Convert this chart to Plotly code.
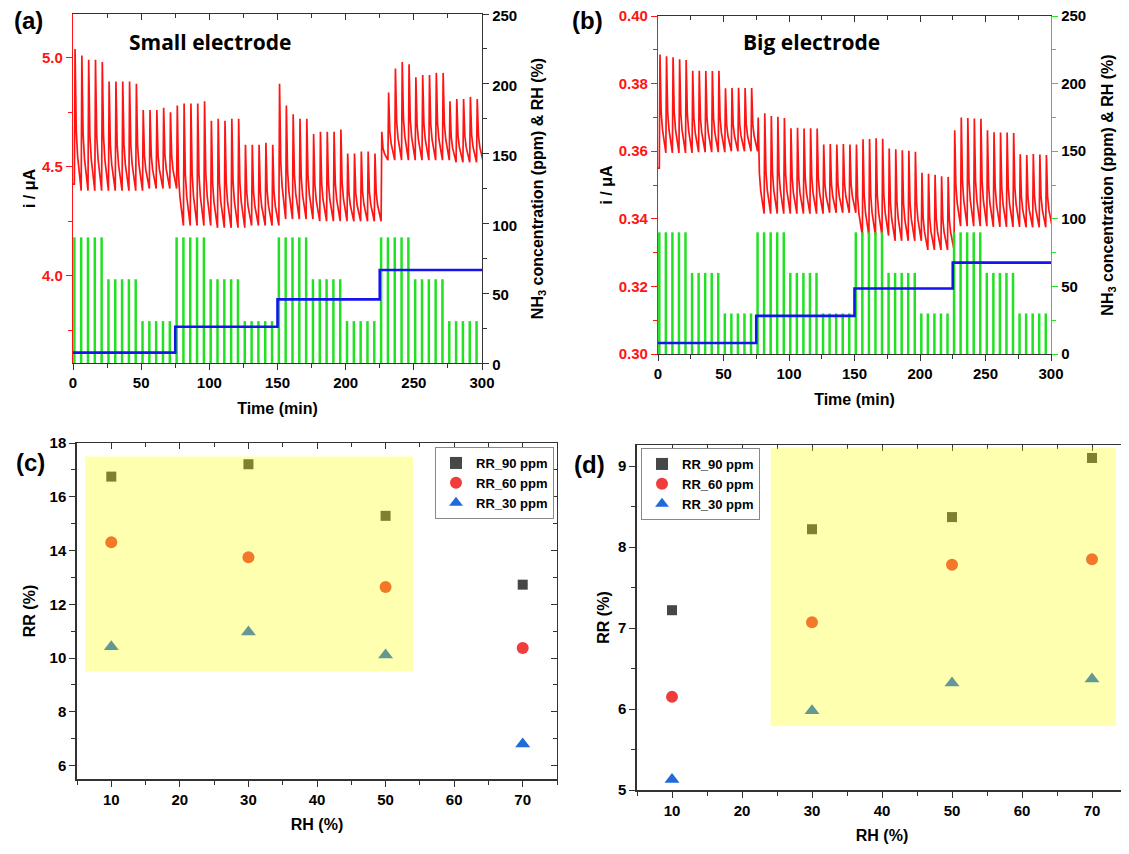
import plotly.graph_objects as go

W, H = 1129, 854
OFF = 8                      # default page margin around the plot div
FW, FH = W - OFF, H - OFF    # figure size

# ------------------------------------------------------------------ data
PERIOD = 5.0            # min between NH3 pulses
PULSE_START = 1.0       # first pulse time (min)
PULSES_PER_GROUP = 5

group_conc_ppm = [90, 60, 30, 90, 60, 30, 90, 60, 30, 90, 60, 30]

rh_step_time = [0, 75, 150, 225, 300]
rh_small = [7.4, 26.0, 45.6, 66.6, 66.6]
rh_big = [8.1, 28.2, 48.4, 67.6, 67.6]

# current peaks (one per NH3 pulse) and baselines (one per group)
peaks_small = [
    5.04, 5.01, 4.99, 4.99, 4.98,
    4.89, 4.89, 4.89, 4.89, 4.88,
    4.76, 4.76, 4.76, 4.77, 4.75,
    4.78, 4.79, 4.79, 4.79, 4.80,
    4.71, 4.72, 4.71, 4.72, 4.72,
    4.60, 4.60, 4.60, 4.61, 4.60,
    4.88, 4.78, 4.74, 4.72, 4.72,
    4.65, 4.66, 4.66, 4.66, 4.67,
    4.56, 4.56, 4.57, 4.57, 4.56,
    4.66, 4.84, 4.95, 4.98, 4.97,
    4.91, 4.92, 4.92, 4.93, 4.93,
    4.80, 4.81, 4.81, 4.82, 4.81,
]
valleys_small = [4.39, 4.39, 4.40, 4.23, 4.22, 4.23, 4.26, 4.25, 4.25, 4.53, 4.53, 4.52]
start_small = 4.42

peaks_big = [
    0.3886, 0.3881, 0.3878, 0.3872, 0.3870,
    0.3838, 0.3838, 0.3837, 0.3837, 0.3838,
    0.3786, 0.3787, 0.3788, 0.3787, 0.3787,
    0.3700, 0.3712, 0.3704, 0.3702, 0.3698,
    0.3668, 0.3669, 0.3667, 0.3668, 0.3667,
    0.3620, 0.3621, 0.3620, 0.3621, 0.3620,
    0.3620, 0.3635, 0.3636, 0.3638, 0.3637,
    0.3608, 0.3606, 0.3603, 0.3601, 0.3598,
    0.3536, 0.3533, 0.3530, 0.3526, 0.3524,
    0.3662, 0.3700, 0.3698, 0.3697, 0.3696,
    0.3662, 0.3656, 0.3655, 0.3655, 0.3654,
    0.3591, 0.3589, 0.3592, 0.3590, 0.3589,
]
valleys_big = [0.3595, 0.3597, 0.3600, 0.3415, 0.3415, 0.3418,
               0.3350, 0.3335, 0.3308, 0.3378, 0.3376, 0.3375]
start_big = 0.355

rh_pct = [10, 30, 50, 70]
rr_small_90 = [16.75, 17.21, 15.29, 12.73]
rr_small_60 = [14.31, 13.75, 12.64, 10.37]
rr_small_30 = [10.42, 10.97, 10.11, 6.80]
rr_big_90 = [7.22, 8.22, 8.37, 9.10]
rr_big_60 = [6.15, 7.07, 7.78, 7.85]
rr_big_30 = [5.13, 5.98, 6.32, 6.37]

series_names = ["RR_90 ppm", "RR_60 ppm", "RR_30 ppm"]

# --------------------------------------------------------------- helpers
def px(x):
    return (x - OFF) / FW

def py(y):
    return 1 - (y - OFF) / FH

FONT = "Arial, Liberation Sans, sans-serif"
RED = "#ff1414"
GREEN = "#22e022"
BLUE = "#1414ee"
AXC = "#333333"


def pulse_times():
    n = len(group_conc_ppm) * PULSES_PER_GROUP
    return [PULSE_START + PERIOD * i for i in range(n)]


def waveform(peaks, valleys, start):
    xs, ys = [0.0], [start]
    prev = start
    for i, (t, p) in enumerate(zip(pulse_times(), peaks)):
        v = valleys[i // PULSES_PER_GROUP]
        amp = p - v
        xs += [t, t + 0.5, t + 1.4, t + 2.4, t + PERIOD]
        ys += [prev, p, v + 0.42 * amp, v + 0.24 * amp, v]
        prev = v
    return xs, ys


def gas_bars():
    xs, ys = [], []
    for i, t in enumerate(pulse_times()):
        h = group_conc_ppm[i // PULSES_PER_GROUP]
        xs += [t, t, None]
        ys += [0, h, None]
    return xs, ys


fig = go.Figure()

tickfont = dict(family=FONT, size=15, color="black", weight="bold")
redfont = dict(family=FONT, size=15, color=RED, weight="bold")
titlefont = dict(family=FONT, size=16, color="black", weight="bold")


def time_panel(xa, yl, yr, dom_x, dom_y, peaks, valleys, start, rh, ylr,
               ydt, yfmt, rcolor, rstand, rshift):
    gx, gy = gas_bars()
    fig.add_trace(go.Scatter(x=gx, y=gy, mode="lines", line=dict(color=GREEN, width=2.5),
                             xaxis=xa, yaxis=yr, showlegend=False, hoverinfo="skip"))
    fig.add_trace(go.Scatter(x=rh_step_time, y=rh, mode="lines", line_shape="hv",
                             line=dict(color=BLUE, width=2.6),
                             xaxis=xa, yaxis=yr, showlegend=False))
    wx, wy = waveform(peaks, valleys, start)
    fig.add_trace(go.Scatter(x=wx, y=wy, mode="lines", line=dict(color=RED, width=1.7),
                             xaxis=xa, yaxis=yl, showlegend=False))
    xkey = "xaxis" + xa[1:]
    ylkey = "yaxis" + yl[1:]
    yrkey = "yaxis" + yr[1:]
    fig.layout[xkey] = dict(domain=dom_x, anchor=yl, range=[0, 300], dtick=50, tick0=0,
                            automargin=False, ticklabeloverflow="allow",
                            ticks="outside", ticklen=6, tickwidth=1.2, tickcolor=AXC,
                            showline=True, linecolor=AXC, linewidth=1.3,
                            minor=dict(dtick=25, ticks="outside", ticklen=4, tickcolor=AXC),
                            showgrid=False, zeroline=False, tickfont=tickfont,
                            title=dict(text="Time (min)", font=titlefont, standoff=12))
    fig.layout[ylkey] = dict(domain=dom_y, anchor=xa, range=ylr, dtick=ydt, tickformat=yfmt,
                             automargin=False, ticklabeloverflow="allow",
                             ticks="outside", ticklen=6, tickwidth=1.2, tickcolor=RED,
                             showline=True, linecolor=RED, linewidth=1.3,
                             minor=dict(dtick=ydt / 2, ticks="outside", ticklen=4, tickcolor=RED),
                             showgrid=False, zeroline=False, tickfont=redfont,
                             title=dict(text="i / μA", font=titlefont, standoff=2))
    fig.layout[yrkey] = dict(domain=dom_y, anchor=xa, overlaying=yl, side="right",
                             range=[0, 250], dtick=50, automargin=False,
                             ticklabeloverflow="allow", ticklabelshift=rshift,
                             ticks="outside", ticklen=6, tickwidth=1.2, tickcolor=rcolor,
                             showline=True, linecolor=rcolor, linewidth=1.3,
                             minor=dict(dtick=25, ticks="outside", ticklen=4, tickcolor=rcolor),
                             showgrid=False, zeroline=False, tickfont=tickfont,
                             title=dict(text="NH<sub>3</sub> concentration (ppm) &amp; RH (%)",
                                        font=titlefont, standoff=rstand))


def top_ticks(xa_new, anchor_y, over_x, rng, dtick, minor_dt):
    fig.add_trace(go.Scatter(x=[None], y=[None], xaxis=xa_new, yaxis=anchor_y,
                             showlegend=False, hoverinfo="skip"))
    fig.layout["xaxis" + xa_new[1:]] = dict(
        overlaying=over_x, anchor=anchor_y, side="top", range=rng, dtick=dtick,
        automargin=False,
        ticks="inside", ticklen=6, tickwidth=1.2, tickcolor=AXC, showticklabels=False,
        showline=True, linecolor=AXC, linewidth=1.3, showgrid=False, zeroline=False,
        minor=dict(dtick=minor_dt, ticks="inside", ticklen=4, tickcolor=AXC))


def right_ticks(ya_new, anchor_x, over_y, rng, dtick, minor_dt):
    fig.add_trace(go.Scatter(x=[None], y=[None], xaxis=anchor_x, yaxis=ya_new,
                             showlegend=False, hoverinfo="skip"))
    fig.layout["yaxis" + ya_new[1:]] = dict(
        overlaying=over_y, anchor=anchor_x, side="right", range=rng, dtick=dtick,
        automargin=False,
        ticks="inside", ticklen=6, tickwidth=1.2, tickcolor=AXC, showticklabels=False,
        showline=True, linecolor=AXC, linewidth=1.3, showgrid=False, zeroline=False,
        minor=dict(dtick=minor_dt, ticks="inside", ticklen=4, tickcolor=AXC))


# (a) small electrode
dxa = [px(73), px(482)]
dya = [py(363), py(14)]
time_panel("x", "y", "y2", dxa, dya, peaks_small, valleys_small, start_small, rh_small,
           [3.6, 5.2], 0.5, ".1f", AXC, 15, 2)
# (b) big electrode
dxb = [px(658), px(1051)]
dyb = [py(354), py(16)]
time_panel("x2", "y3", "y4", dxb, dyb, peaks_big, valleys_big, start_big, rh_big,
           [0.30, 0.40], 0.02, ".2f", GREEN, 16, 0)

top_ticks("x5", "y", "x", [0, 300], 50, 25)
top_ticks("x6", "y3", "x2", [0, 300], 50, 25)

# (c) & (d) RR vs RH
marker_styles = [
    dict(symbol="square", size=10, color="#474747"),
    dict(symbol="circle", size=12, color="#f03c3c"),
    dict(symbol="triangle-up", size=13, color="#1f6bd8"),
]


def rr_panel(xa, ya, dom_x, dom_y, series, yrange, ydt, legend_id, ystand):
    for name, vals, m in zip(series_names, series, marker_styles):
        fig.add_trace(go.Scatter(x=rh_pct, y=vals, mode="markers", name=name,
                                 marker=dict(symbol=m["symbol"], size=m["size"], color=m["color"],
                                             line=dict(width=0)),
                                 xaxis=xa, yaxis=ya, legend=legend_id))
    fig.layout["xaxis" + xa[1:]] = dict(
        domain=dom_x, anchor=ya, range=[5, 75], dtick=10, tick0=0, automargin=False,
        ticklabeloverflow="allow",
        ticks="outside", ticklen=6, tickwidth=1.2, tickcolor=AXC,
        showline=True, linecolor=AXC, linewidth=1.5,
        minor=dict(dtick=5, ticks="outside", ticklen=4, tickcolor=AXC),
        showgrid=False, zeroline=False, tickfont=tickfont,
        title=dict(text="RH (%)", font=titlefont, standoff=12))
    fig.layout["yaxis" + ya[1:]] = dict(
        domain=dom_y, anchor=xa, range=yrange, dtick=ydt, automargin=False,
        ticklabeloverflow="allow",
        ticks="outside", ticklen=6, tickwidth=1.2, tickcolor=AXC,
        showline=True, linecolor=AXC, linewidth=1.5,
        minor=dict(dtick=ydt / 2, ticks="outside", ticklen=4, tickcolor=AXC),
        showgrid=False, zeroline=False, tickfont=tickfont,
        title=dict(text="RR (%)", font=titlefont, standoff=ystand))


dxc = [px(77), px(557)]
dyc = [py(779), py(443)]
rr_panel("x3", "y5", dxc, dyc, [rr_small_90, rr_small_60, rr_small_30], [5.5, 18], 2,
         "legend", 10)
dxd = [px(637), px(1127)]
dyd = [py(790), py(445)]
rr_panel("x4", "y6", dxd, dyd, [rr_big_90, rr_big_60, rr_big_30], [5, 9.26], 1,
         "legend2", 4)

top_ticks("x7", "y5", "x3", [5, 75], 10, 5)
top_ticks("x8", "y6", "x4", [5, 75], 10, 5)
right_ticks("y7", "x3", "y5", [5.5, 18], 2, 1)
right_ticks("y8", "x4", "y6", [5, 9.26], 1, 0.5)

legend_common = dict(bgcolor="white", bordercolor="#888888", borderwidth=1,
                     font=dict(family=FONT, size=13, color="black", weight="bold"),
                     itemsizing="constant", tracegroupgap=0, itemwidth=30,
                     xanchor="left", yanchor="top")
fig.update_layout(
    legend=dict(x=px(435), y=py(447), **legend_common),
    legend2=dict(x=px(641), y=py(448), **legend_common),
)

# yellow highlight (semi-transparent, drawn over the markers)
fig.add_shape(type="rect", xref="x3", yref="y5", x0=6.2, x1=54.0, y0=9.5, y1=17.5,
              fillcolor="rgba(255,255,0,0.31)", line=dict(width=0), layer="above")
fig.add_shape(type="rect", xref="x4", yref="y6", x0=24.1, x1=73.4, y0=5.79, y1=9.23,
              fillcolor="rgba(255,255,0,0.31)", line=dict(width=0), layer="above")

# panel labels and titles
ann = [
    ("(a)", 28, 20),
    ("(b)", 587, 20),
    ("(c)", 30, 462),
    ("(d)", 589, 465),
]
for txt, x, y in ann:
    fig.add_annotation(text=txt, x=px(x), y=py(y), xref="paper", yref="paper",
                       xanchor="center", yanchor="middle", showarrow=False,
                       font=dict(family=FONT, size=24, color="black", weight="bold"))
fig.add_annotation(text="Small electrode", x=px(210), y=py(42), xref="paper", yref="paper",
                   xanchor="center", yanchor="middle", showarrow=False,
                   font=dict(family="Open Sans, sans-serif", size=21, color="black", weight="bold"))
fig.add_annotation(text="Big electrode", x=px(811), y=py(42), xref="paper", yref="paper",
                   xanchor="center", yanchor="middle", showarrow=False,
                   font=dict(family="Open Sans, sans-serif", size=21, color="black", weight="bold"))

fig.update_layout(width=FW, height=FH, margin=dict(l=0, r=0, t=0, b=0),
                  paper_bgcolor="white", plot_bgcolor="white",
                  font=dict(family=FONT, color="black"))

fig.write_html("out.html")
